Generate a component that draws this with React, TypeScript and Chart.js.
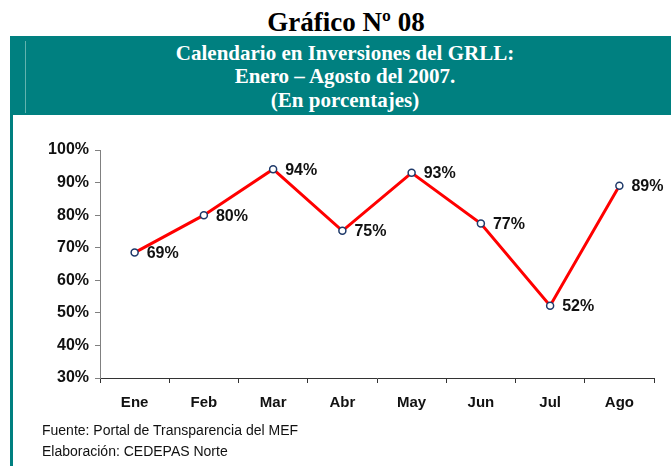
import React, { useEffect, useRef } from "react";
import { Chart, registerables } from "chart.js";

Chart.register(...registerables);

const months = ["Ene", "Feb", "Mar", "Abr", "May", "Jun", "Jul", "Ago"];
const execution = [68.5, 80, 94.1, 75.2, 93, 77.4, 52.2, 89];
const pointLabels = ["69%", "80%", "94%", "75%", "93%", "77%", "52%", "89%"];
const yTicks = [30, 40, 50, 60, 70, 80, 90, 100];

const titleText = "Gráfico Nº 08";
const bandLines = [
  "Calendario en Inversiones del GRLL:",
  "Enero – Agosto del 2007.",
  "(En porcentajes)",
];
const sourceLines = [
  "Fuente: Portal de Transparencia del MEF",
  "Elaboración: CEDEPAS Norte",
];

const TEAL = "#008080";

export default function App() {
  const ref = useRef<HTMLCanvasElement | null>(null);

  useEffect(() => {
    if (!ref.current) return;
    const labelPlugin = {
      id: "pointLabels",
      afterDatasetsDraw(chart: any) {
        const ctx = chart.ctx;
        const meta = chart.getDatasetMeta(0);
        ctx.save();
        ctx.font = "bold 16px 'Liberation Sans', Arial, sans-serif";
        ctx.fillStyle = "#111";
        ctx.textAlign = "left";
        ctx.textBaseline = "middle";
        meta.data.forEach((pt: any, i: number) => {
          ctx.fillText(pointLabels[i], pt.x + 12, pt.y + 1);
        });
        ctx.restore();
      },
    };
    const chart = new Chart(ref.current, {
      type: "line",
      data: {
        labels: months,
        datasets: [
          {
            data: execution,
            borderColor: "#ff0000",
            borderWidth: 3,
            tension: 0,
            pointRadius: 3.5,
            pointBorderWidth: 1.5,
            pointBorderColor: "#1f3a6a",
            pointBackgroundColor: "#ffffff",
          },
        ],
      },
      options: {
        responsive: false,
        animation: false,
        devicePixelRatio: 1,
        layout: { padding: { top: 150, right: 17, bottom: 0, left: 0 } },
        plugins: {
          legend: { display: false },
          tooltip: { enabled: false },
          title: { display: false },
        },
        scales: {
          x: {
            offset: true,
            grid: {
              offset: true,
              drawOnChartArea: false,
              drawTicks: true,
              tickLength: 5,
              color: "#333",
            },
            border: { color: "#333", width: 1 },
            ticks: {
              color: "#111",
              padding: 11,
              font: { family: "'Liberation Sans', Arial, sans-serif", size: 15, weight: "bold" },
            },
            afterFit: (s: any) => {
              s.height = 88;
            },
          },
          y: {
            min: 30,
            max: 100,
            afterBuildTicks: (s: any) => {
              s.ticks = yTicks.map((v) => ({ value: v }));
            },
            grid: {
              drawOnChartArea: false,
              drawTicks: true,
              tickLength: 5,
              color: "#808080",
            },
            border: { color: "#808080", width: 1 },
            ticks: {
              color: "#111",
              padding: 6,
              callback: (v: any) => v + "%",
              font: { family: "'Liberation Sans', Arial, sans-serif", size: 16, weight: "bold" },
            },
            afterFit: (s: any) => {
              s.width = 100;
            },
          },
        },
      },
      plugins: [labelPlugin],
    });
    return () => chart.destroy();
  }, []);

  const serif = "'Liberation Serif', 'Times New Roman', serif";
  const sans = "'Liberation Sans', Arial, sans-serif";

  return (
    <div
      style={{
        position: "fixed",
        left: 0,
        top: 0,
        width: 671,
        height: 466,
        background: "#fff",
        overflow: "hidden",
      }}
    >
      <div
        style={{
          position: "absolute",
          left: 0,
          top: 7,
          width: 692,
          textAlign: "center",
          font: `bold 27px ${serif}`,
          lineHeight: "31px",
          color: "#000",
          whiteSpace: "nowrap",
        }}
      >
        {titleText}
      </div>
      <div
        style={{
          position: "absolute",
          left: 10,
          top: 36,
          width: 661,
          height: 79,
          background: TEAL,
        }}
      />
      <div
        style={{
          position: "absolute",
          left: 25,
          top: 41,
          width: 1,
          height: 72,
          background: "#62b3ae",
        }}
      />
      <div
        style={{
          position: "absolute",
          left: 10,
          top: 115,
          width: 3,
          height: 351,
          background: TEAL,
        }}
      />
      <div
        style={{
          position: "absolute",
          left: 0,
          top: 42,
          width: 690,
          textAlign: "center",
          font: `bold 21px ${serif}`,
          lineHeight: "23.3px",
          color: "#fff",
          whiteSpace: "nowrap",
        }}
      >
        {bandLines.map((l, i) => (
          <div key={i}>{l}</div>
        ))}
      </div>
      <canvas
        ref={ref}
        width={671}
        height={466}
        style={{ position: "absolute", left: 0, top: 0, width: 671, height: 466 }}
      />
      <div
        style={{
          position: "absolute",
          left: 42,
          top: 420,
          font: `14px ${sans}`,
          lineHeight: "21px",
          color: "#111",
          whiteSpace: "nowrap",
        }}
      >
        {sourceLines.map((l, i) => (
          <div key={i}>{l}</div>
        ))}
      </div>
    </div>
  );
}
